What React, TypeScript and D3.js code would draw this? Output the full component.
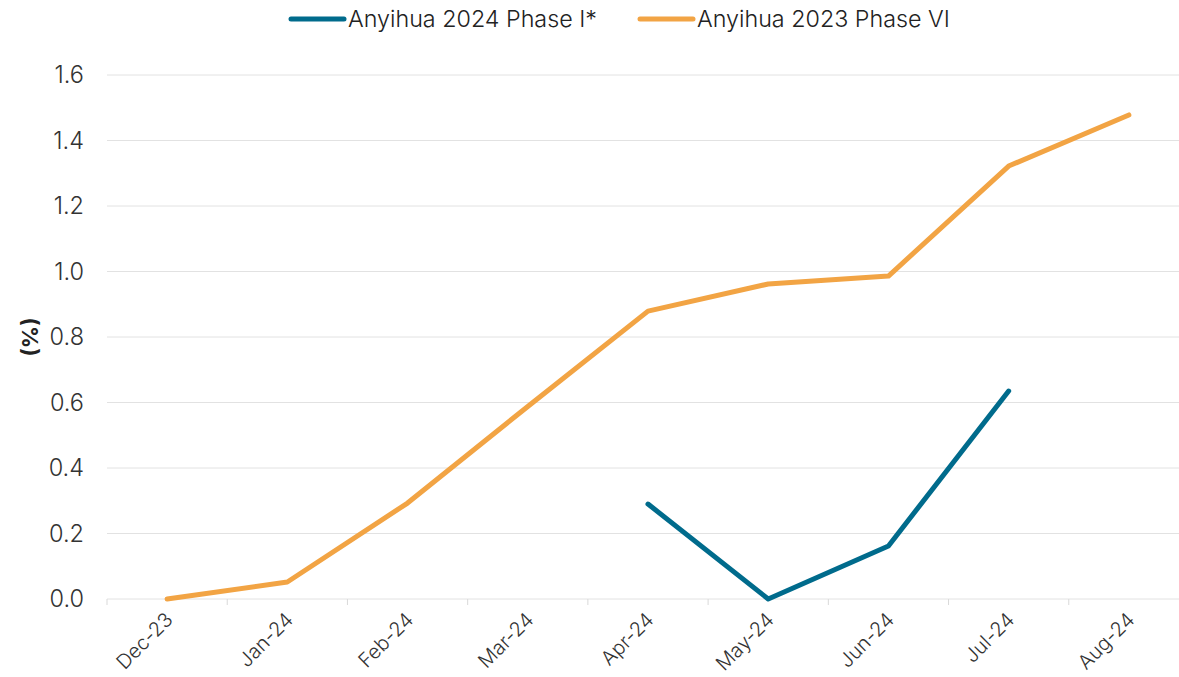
import React, { useEffect, useRef } from 'react';
import * as d3 from 'd3';

const months = ['Dec-23', 'Jan-24', 'Feb-24', 'Mar-24', 'Apr-24', 'May-24', 'Jun-24', 'Jul-24', 'Aug-24'];
const phase2023 = [0.0, 0.052, 0.293, 0.588, 0.879, 0.962, 0.986, 1.322, 1.478];
const phase2024 = [null, null, null, null, 0.29, 0.0, 0.162, 0.635, null];
const yTicks = [0, 0.2, 0.4, 0.6, 0.8, 1.0, 1.2, 1.4, 1.6];
const seriesNames = ['Anyihua 2024 Phase I*', 'Anyihua 2023 Phase VI'];
const colors = ['#006B8C', '#F2A444'];

const width = 1179;
const height = 677;
const font = 'Inter, Roboto, sans-serif';

export default function App() {
  const ref = useRef<SVGSVGElement>(null);

  useEffect(() => {
    const svg = d3.select(ref.current);
    svg.selectAll('*').remove();

    const margin = { top: 75, right: -10, bottom: 78, left: 107 };

    const x = d3.scaleBand()
      .domain(months)
      .range([margin.left, width - margin.right]);

    const y = d3.scaleLinear()
      .domain([0, 1.6])
      .range([height - margin.bottom, margin.top]);

    // gridlines
    svg.append('g')
      .selectAll('line')
      .data(yTicks)
      .join('line')
      .attr('x1', margin.left)
      .attr('x2', width)
      .attr('y1', d => y(d))
      .attr('y2', d => y(d))
      .attr('stroke', '#e2e2e2')
      .attr('stroke-width', 1);

    // y labels
    svg.append('g')
      .selectAll('text')
      .data(yTicks)
      .join('text')
      .attr('x', 84)
      .attr('y', d => y(d))
      .attr('dy', '0.36em')
      .attr('text-anchor', 'end')
      .attr('font-family', font)
      .attr('font-size', 23.5)
      .attr('font-weight', 300)
      .attr('fill', '#333')
      .text(d => d.toFixed(1));

    svg.append('text')
      .attr('transform', `translate(38,${y(0.8)}) rotate(-90)`)
      .attr('text-anchor', 'middle')
      .attr('font-family', font)
      .attr('font-size', 22)
      .attr('font-weight', 700)
      .attr('fill', '#222')
      .text('(%)');

    // x tick marks at band edges
    const edges = months.map(m => x(m) as number);
    svg.append('g')
      .selectAll('line')
      .data(edges)
      .join('line')
      .attr('x1', d => d)
      .attr('x2', d => d)
      .attr('y1', y(0))
      .attr('y2', y(0) + 6)
      .attr('stroke', '#d9d9d9');

    // x labels
    svg.append('g')
      .selectAll('text')
      .data(months)
      .join('text')
      .attr('transform', d => `translate(${(x(d) as number) + x.bandwidth() / 2 + 7},${y(0) + 22}) rotate(-45)`)
      .attr('text-anchor', 'end')
      .attr('font-family', font)
      .attr('font-size', 20)
      .attr('font-weight', 300)
      .attr('fill', '#333')
      .text(d => d);

    const cx = (m: string) => (x(m) as number) + x.bandwidth() / 2;

    const line = d3.line<number | null>()
      .defined(d => d !== null)
      .x((_, i) => cx(months[i]))
      .y(d => y(d as number));

    [phase2023, phase2024].forEach((data, k) => {
      svg.append('path')
        .datum(data)
        .attr('fill', 'none')
        .attr('stroke', k === 0 ? colors[1] : colors[0])
        .attr('stroke-width', 5)
        .attr('stroke-linecap', 'round')
        .attr('stroke-linejoin', 'round')
        .attr('d', line);
    });

    // legend
    const legendX = [291, 640];
    seriesNames.forEach((name, i) => {
      const g = svg.append('g').attr('transform', `translate(${legendX[i]},19)`);
      g.append('line')
        .attr('x1', 0)
        .attr('x2', 53)
        .attr('stroke', colors[i])
        .attr('stroke-width', 5)
        .attr('stroke-linecap', 'round');
      g.append('text')
        .attr('x', 57)
        .attr('dy', '0.36em')
        .attr('font-family', font)
        .attr('font-size', 23.3)
        .attr('font-weight', 300)
        .attr('fill', '#222')
        .text(name);
    });
  }, []);

  return (
    <div style={{ position: 'fixed', left: 0, top: 0 }}>
      <svg ref={ref} width={width} height={height} style={{ display: 'block', background: '#fff' }} />
    </div>
  );
}
